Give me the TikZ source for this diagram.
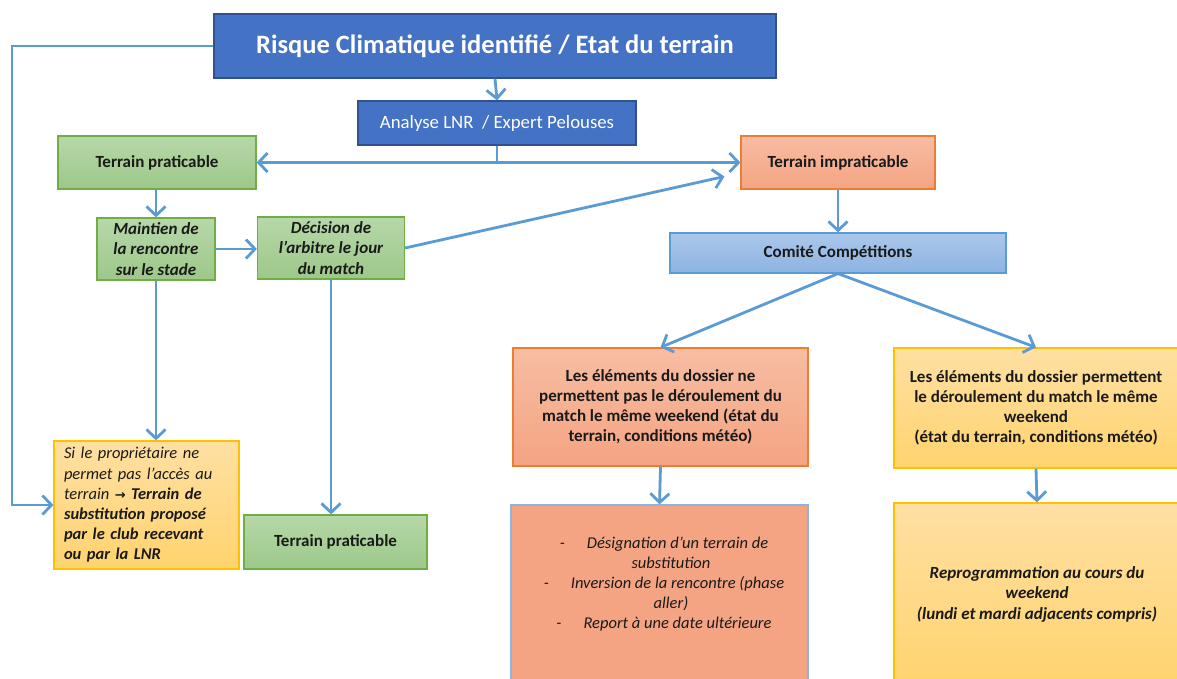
\documentclass[tikz,border=0pt]{standalone}
\usepackage{fontspec}
\setmainfont{Carlito}
\newfontfamily\symfont{DejaVu Sans}
\usetikzlibrary{arrows.meta}

\definecolor{bleufonce}{HTML}{4472C4}
\definecolor{bleubord}{HTML}{2F528F}
\definecolor{fleche}{HTML}{5B9BD5}
\definecolor{verthaut}{HTML}{B7D8A9}
\definecolor{vertbas}{HTML}{9CC889}
\definecolor{vertbord}{HTML}{70AD47}
\definecolor{orangehaut}{HTML}{F7BDA3}
\definecolor{orangebas}{HTML}{F4A482}
\definecolor{orangebord}{HTML}{ED7D31}
\definecolor{cielhaut}{HTML}{AAC8EB}
\definecolor{cielbas}{HTML}{8DB3E2}
\definecolor{jaunehaut}{HTML}{FFE0A3}
\definecolor{jaunebas}{HTML}{FFD36E}
\definecolor{jaunebord}{HTML}{FFC000}
\definecolor{texte}{HTML}{1A1A1A}

\begin{document}
\begin{tikzpicture}[x=1pt,y=-1pt,
  boite/.style={rectangle, line width=1.2pt, inner sep=0pt, text=texte, align=center},
  bleu/.style={boite, fill=bleufonce, draw=bleubord, text=white},
  vert/.style={boite, top color=verthaut, bottom color=vertbas, draw=vertbord},
  orange/.style={boite, top color=orangehaut, bottom color=orangebas, draw=orangebord},
  ciel/.style={boite, top color=cielhaut, bottom color=cielbas, draw=fleche},
  jaune/.style={boite, top color=jaunehaut, bottom color=jaunebas, draw=jaunebord},
  gras/.style={font=\fontsize{17}{20}\selectfont\bfseries},
  grasit/.style={font=\fontsize{17}{20.5}\selectfont\bfseries\itshape},
  lien/.style={draw=fleche, line width=2.8pt, -{Straight Barb[length=9pt,width=19pt]}}]
  \clip (0,0) rectangle (1177,679);

  \node[bleu, minimum width=562, minimum height=64, font=\fontsize{26.5}{30}\selectfont\bfseries]
    (risque) at (495,46) {Risque Climatique identifié / Etat du terrain};
  \node[bleu, minimum width=278, minimum height=44, font=\fontsize{18.8}{22}\selectfont]
    (analyse) at (497,123) {Analyse LNR~ / Expert Pelouses};

  \node[vert, gras, minimum width=198, minimum height=53] (tp1) at (157,162.5) {Terrain praticable};
  \node[orange, gras, minimum width=194, minimum height=53] (timp) at (838,162.5) {Terrain impraticable};

  \node[vert, grasit, minimum width=118, minimum height=62] (maintien) at (156,249)
    {Maintien de\\la rencontre\\sur le stade};
  \node[vert, grasit, minimum width=147, minimum height=62] (decision) at (331,248)
    {Décision de\\l’arbitre le jour\\du match};

  \node[jaune, text width=165, inner xsep=10, minimum height=128, align=left,
    font=\fontsize{16.5}{20.2}\selectfont\itshape] (si) at (146.5,505)
    {Si le propriétaire ne\\permet pas l’accès au\\terrain {\symfont\bfseries\fontsize{13}{14}\selectfont →} \textbf{Terrain de}\\
     \textbf{substitution proposé}\\\textbf{par le club recevant}\\\textbf{ou par la LNR}};
  \node[vert, gras, minimum width=183, minimum height=54] (tp2) at (335.5,542) {Terrain praticable};

  \node[ciel, gras, minimum width=336, minimum height=40] (comite) at (838,253) {Comité Compétitions};

  \node[orange, gras, minimum width=295, minimum height=118] (nepas) at (660.5,407)
    {Les éléments du dossier ne\\permettent pas le déroulement du\\match le même weekend (état du\\terrain, conditions météo)};
  \node[jaune, gras, minimum width=284, minimum height=120] (permet) at (1036,408)
    {Les éléments du dossier permettent\\le déroulement du match le même\\weekend\\(état du terrain, conditions météo)};

  \node[boite, fill=orangebas, draw=cielbas, minimum width=297, minimum height=190] (report) at (659.5,600) {};
  \node[font=\fontsize{16.5}{19.8}\selectfont\itshape, text=texte, align=center] (reporttxt) at (664,584)
    {-\hspace{22pt}Désignation d’un terrain de\\\hspace{14pt}substitution\\
     -\hspace{22pt}Inversion de la rencontre (phase\\\hspace{14pt}aller)\\
     -\hspace{22pt}Report à une date ultérieure};
  \node[jaune, grasit, minimum width=286, minimum height=182] (reprog) at (1037,594)
    {Reprogrammation au cours du\\weekend\\(lundi et mardi adjacents compris)};

  % liaisons
  \coordinate (fourche) at (analyse.south |- tp1.east);
  \coordinate (boucle) at (12,0);
  \draw[lien] (risque.south) -- (analyse.north);
  \draw[draw=fleche, line width=2.8pt] (analyse.south) -- (fourche);
  \draw[lien] (fourche) -- (tp1.east);
  \draw[lien] (fourche) -- (timp.west);
  \draw[lien] (risque.west) -| (boucle |- si.west) -- (si.west);
  \draw[lien] (tp1.south -| maintien.north) -- (maintien.north);
  \draw[lien] (maintien.east) -- (maintien.east -| decision.west);
  \draw[lien] (maintien.south) -- (maintien.south |- si.north);
  \draw[lien] (decision.south) -- (decision.south |- tp2.north);
  \draw[lien] (decision.east) -- ([xshift=-16pt, yshift=-14pt]timp.west);
  \draw[lien] (timp.south) -- (comite.north);
  \draw[lien] (comite.south) -- (nepas.north);
  \draw[lien] (comite.south) -- (permet.north);
  \draw[lien] (nepas.south) -- (report.north);
  \draw[lien] (permet.south) -- (reprog.north);
\end{tikzpicture}
\end{document}
